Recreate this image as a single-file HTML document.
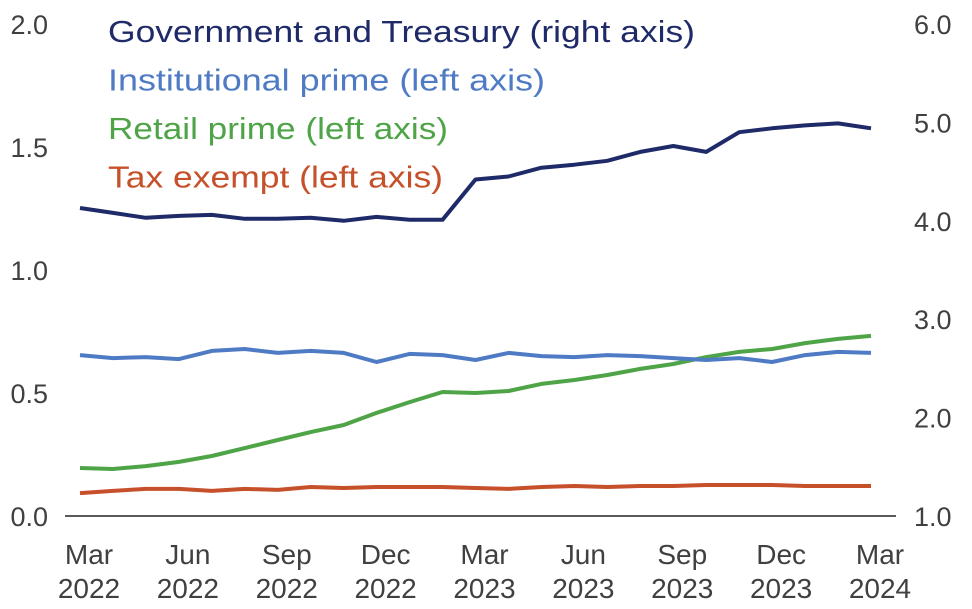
<!DOCTYPE html>
<html><head><meta charset="utf-8"><style>
html,body{margin:0;padding:0;background:#fff;}
svg{display:block;font-family:"Liberation Sans",sans-serif;}
</style></head><body>
<svg id="chart" width="972" height="609" viewBox="0 0 972 609"></svg>
<script>
const categories=["Mar 2022","Apr 2022","May 2022","Jun 2022","Jul 2022","Aug 2022","Sep 2022","Oct 2022","Nov 2022","Dec 2022","Jan 2023","Feb 2023","Mar 2023","Apr 2023","May 2023","Jun 2023","Jul 2023","Aug 2023","Sep 2023","Oct 2023","Nov 2023","Dec 2023","Jan 2024","Feb 2024","Mar 2024"];
const govt=[4.13,4.08,4.03,4.05,4.06,4.02,4.02,4.03,4.00,4.04,4.01,4.01,4.42,4.45,4.54,4.57,4.61,4.70,4.76,4.70,4.90,4.94,4.97,4.99,4.94];
const institutional=[0.654,0.642,0.646,0.638,0.671,0.679,0.663,0.671,0.663,0.626,0.659,0.654,0.634,0.663,0.650,0.646,0.654,0.650,0.642,0.634,0.642,0.626,0.654,0.667,0.663];
const retail=[0.195,0.191,0.203,0.220,0.244,0.276,0.309,0.341,0.370,0.419,0.463,0.504,0.500,0.508,0.537,0.553,0.573,0.598,0.618,0.646,0.667,0.679,0.703,0.720,0.732];
const taxExempt=[0.093,0.102,0.110,0.110,0.102,0.110,0.106,0.118,0.114,0.118,0.118,0.118,0.114,0.110,0.118,0.122,0.118,0.122,0.122,0.126,0.126,0.126,0.122,0.122,0.122];
const leftTicks=["0.0","0.5","1.0","1.5","2.0"];
const rightTicks=["1.0","2.0","3.0","4.0","5.0","6.0"];
const xTickMonths=["Mar","Jun","Sep","Dec","Mar","Jun","Sep","Dec","Mar"];
const xTickYears=["2022","2022","2022","2022","2023","2023","2023","2023","2024"];
const xTickIdx=[0,3,6,9,12,15,18,21,24];

const NS="http://www.w3.org/2000/svg";
const svg=document.getElementById('chart');
const X0=80,X1=871,YB=516,YT=24;
const x=i=>X0+(X1-X0)*i/(categories.length-1);
const yL=v=>YB-(YB-YT)*v/2;
const yR=v=>YB-(YB-YT)*(v-1)/5;
function mk(tag,attrs,txt){const e=document.createElementNS(NS,tag);for(const k in attrs)e.setAttribute(k,attrs[k]);if(txt!==undefined)e.textContent=txt;svg.appendChild(e);return e;}

leftTicks.forEach(t=>{
  const e=mk('text',{x:48,y:yL(parseFloat(t))+10,'text-anchor':'end','font-size':27,fill:'#404040'},t);
  
  
});
rightTicks.forEach(t=>{
  const e=mk('text',{x:914,y:yR(parseFloat(t))+10,'text-anchor':'start','font-size':27,fill:'#404040'},t);
  
  
});
const ax=mk('line',{x1:65,x2:896,y1:YB,y2:YB,stroke:'#595959','stroke-width':2});


xTickIdx.forEach((ci,k)=>{
  const cx=x(ci)+9;
  const a=mk('text',{x:cx,y:564,'text-anchor':'middle','font-size':28,fill:'#404040'},xTickMonths[k]);
  
  
  const b=mk('text',{x:cx,y:598,'text-anchor':'middle','font-size':28,fill:'#404040'},xTickYears[k]);
  
  
});
function line(vals,yf,color,name){
  const d=vals.map((v,i)=>(i?'L':'M')+x(i).toFixed(1)+','+yf(v).toFixed(1)).join(' ');
  const p=mk('path',{d:d,fill:'none',stroke:color,'stroke-width':4,'stroke-linejoin':'round'});
  
  
}
line(taxExempt,yL,'#c5502a','tax-exempt-line');
line(retail,yL,'#4ea447','retail-prime-line');
line(institutional,yL,'#4f7bc4','institutional-prime-line');
line(govt,yR,'#1f2a68','government-treasury-line');
const leg=[["Government and Treasury (right axis)",'#1f2a68','legend-government',587],["Institutional prime (left axis)",'#4f7bc4','legend-institutional',437],["Retail prime (left axis)",'#4ea447','legend-retail',340],["Tax exempt (left axis)",'#c5502a','legend-tax-exempt',335]];
leg.forEach((l,i)=>{
  const e=mk('text',{x:108,y:42+i*48.5,'font-size':31,fill:l[1],textLength:l[3],lengthAdjust:'spacingAndGlyphs'},l[0]);
  
  
});
</script>
</body></html>
